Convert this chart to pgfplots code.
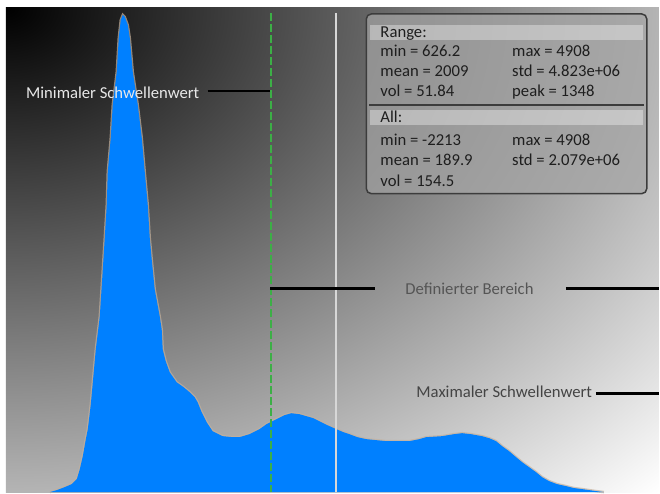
\documentclass[border=0pt]{standalone}
\usepackage{pgfplots}
\pgfplotsset{compat=1.18}
\usepackage{fontspec}
\setmainfont{Carlito}
\definecolor{histblue}{RGB}{0,128,255}
\definecolor{fringe}{RGB}{196,176,156}
\definecolor{thrgreen}{RGB}{60,175,70}
\definecolor{thrwhite}{RGB}{215,215,215}
\definecolor{lblA}{RGB}{232,232,232}
\definecolor{lblB}{RGB}{85,85,85}
\definecolor{lblC}{RGB}{68,68,68}
\definecolor{boxfill}{RGB}{165,165,165}
\definecolor{boxline}{RGB}{60,60,60}
\definecolor{boxtext}{RGB}{30,30,30}
\pgfdeclarefunctionalshading{bgshade}{\pgfpoint{-50bp}{-50bp}}{\pgfpoint{50bp}{50bp}}{}{
  25 sub dup mul exch 25 add dup mul add sqrt 70.7 div dup 1 gt {pop 1} if dup dup
}
\newcommand{\lbl}{\fontsize{16.7bp}{20bp}\selectfont}
\begin{document}
\begin{tikzpicture}
\begin{axis}[
  set layers,
  width=660bp, height=493bp, scale only axis,
  xmin=0, xmax=660, ymin=0, ymax=493,
  hide axis, clip=false,
]
\begin{pgfonlayer}{axis background}
\fill[white] (axis cs:0,0) rectangle (axis cs:660,493);
\shade[shading=bgshade] (axis cs:6,0) rectangle (axis cs:660,485);
\end{pgfonlayer}
\pgfplotstableread{
x y
50 0
57 2
65 5
72 8
77 13
80 23
83 36
86 53
88 63
91 88
93 110
96 143
100 176
103 223
105 255
107 288
108 321
111 355
113 388
117 421
119 455
121 473
123 478
125 476
128 468
130 455
133 421
138 388
142 355
145 321
148 288
150 255
152 233
155 203
160 176
162 163
163 143
166 131
170 120
177 110
184 105
190 100
195 95
198 90
202 80
207 70
213 61
223 56
233 55
240 55
250 58
260 63
267 68
277 73
285 77
292 79
300 78
307 76
314 74
320 71
328 67
337 63
344 60
350 58
358 55
367 53
377 52
387 51
400 51
410 51
420 53
427 55
443 56
455 58
463 59
472 58
483 56
490 54
497 51
503 46
510 41
517 35
523 30
530 25
537 20
543 15
550 11
558 8
567 6
575 4
583 3
590 2
597 1
605 0
}\histdata
\addplot[draw=fringe, line width=2.5bp, opacity=0.7, fill=none] table {\histdata};
\addplot[fill=histblue, draw=none] table {\histdata} \closedcycle;
% threshold lines
\addplot[draw=thrgreen, line width=2bp, dash pattern=on 8bp off 3bp] coordinates {(272,480) (272,0)};
\addplot[draw=thrwhite, line width=2bp] coordinates {(337,480) (337,0)};
% annotation lines
\addplot[black, line width=2.5bp] coordinates {(208,402) (271,402)};
\addplot[black, line width=2.5bp] coordinates {(271,204) (376,204)};
\addplot[black, line width=2.5bp] coordinates {(567,204) (660,204)};
\addplot[black, line width=2.5bp] coordinates {(597,99) (660,99)};
\node[anchor=base west, inner sep=0, text=lblA, font=\lbl] at (axis cs:26,394.6) {Minimaler Schwellenwert};
\node[anchor=base west, inner sep=0, text=lblB, font=\lbl] at (axis cs:406,197.6) {Definierter Bereich};
\node[anchor=base west, inner sep=0, text=lblC, font=\lbl] at (axis cs:417,94.6) {Maximaler Schwellenwert};
% info box
\fill[fill=boxfill, opacity=0.7, rounded corners=5bp] (axis cs:367,479) rectangle (axis cs:648,299);
\fill[fill=white, opacity=0.35] (axis cs:371,468) rectangle (axis cs:644,453);
\fill[fill=white, opacity=0.35] (axis cs:371,383) rectangle (axis cs:644,368);
\draw[draw=boxline, line width=2bp] (axis cs:370,388) -- (axis cs:645,388);
\draw[draw=boxline, line width=1.5bp, rounded corners=5bp] (axis cs:367,479) rectangle (axis cs:648,299);
\begin{scope}[every node/.style={anchor=base west, inner sep=0, font=\lbl, text=boxtext}]
\node at (axis cs:381,455.3) {Range:};
\node at (axis cs:381,435.9) {min = 626.2};
\node at (axis cs:513,435.9) {max = 4908};
\node at (axis cs:381,415.9) {mean = 2009};
\node at (axis cs:513,415.9) {std = 4.823e+06};
\node at (axis cs:381,395.9) {vol = 51.84};
\node at (axis cs:513,395.9) {peak = 1348};
\node at (axis cs:381,370.3) {All:};
\node at (axis cs:381,347.6) {min = -2213};
\node at (axis cs:513,347.6) {max = 4908};
\node at (axis cs:381,326.9) {mean = 189.9};
\node at (axis cs:513,326.9) {std = 2.079e+06};
\node at (axis cs:381,305.9) {vol = 154.5};
\end{scope}
\end{axis}
\end{tikzpicture}
\end{document}
